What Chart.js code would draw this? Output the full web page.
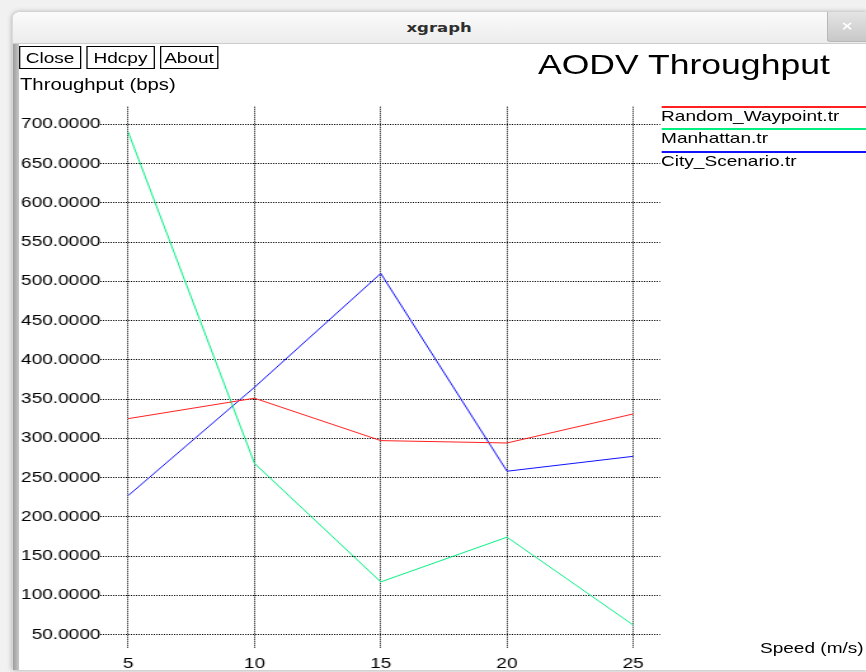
<!DOCTYPE html>
<html>
<head>
<meta charset="utf-8">
<title>xgraph</title>
<script src="https://cdn.jsdelivr.net/npm/chart.js@4.4.1/dist/chart.umd.min.js"></script>
<style>
  html, body { margin: 0; padding: 0; }
  body { width: 866px; height: 672px; overflow: hidden; background: #f1f1f1; font-family: "Liberation Sans", Arial, sans-serif; }
  /* a captura original está esticada na horizontal: desenha com 682px e estica */
  #tela { position: absolute; left: 0; top: 0; width: 682px; height: 672px; transform: scaleX(1.27); transform-origin: 0 0; }
  #janela { position: absolute; left: 9.5px; top: 12px; right: 0; bottom: 2px; background: #fff; border-top-left-radius: 6px; box-shadow: 0 0 5px rgba(0,0,0,0.3); overflow: hidden; }
  #barra-titulo { position: absolute; left: 0; top: 0; right: 0; height: 31px; background: linear-gradient(#fbfbfb, #ececec); border-bottom: 1px solid #cdcdcd; text-align: center; font: bold 13px "DejaVu Sans", sans-serif; line-height: 31px; color: #2e2e2e; }
  #fechar { position: absolute; right: 0; top: 0; width: 30px; height: 29px; background: linear-gradient(#e4e4e4, #c8c8c8); border-left: 1px solid #b8b8b8; border-bottom: 1px solid #b8b8b8; border-bottom-left-radius: 3px; color: #fff; font: bold 12px "DejaVu Sans", sans-serif; line-height: 29px; text-align: center; }
  #borda-esq { position: absolute; left: 0; top: 32px; bottom: 0; width: 5px; background: linear-gradient(to right, #999, #c8c8c8); }
  .botao { position: absolute; top: 46px; height: 23px; box-sizing: border-box; border: 1px solid #000; font-size: 15px; line-height: 21px; text-align: center; color: #000; }
  .texto { position: absolute; color: #000; white-space: nowrap; line-height: 1; }
  #grafico { position: absolute; left: 0; top: 0; }
  #legenda { position: absolute; left: 520.5px; top: 0; right: 0; }
  .item-legenda { position: absolute; left: 0; right: 0; font-size: 15px; line-height: 15px; color: #000; white-space: nowrap; }
  .linha-legenda { height: 2px; }
</style>
</head>
<body>
<div id="tela">
  <div id="janela">
    <div id="barra-titulo">xgraph</div>
    <div id="fechar">×</div>
    <div id="borda-esq"></div>
  </div>
  <div class="botao" style="left:15px; width:48.8px;">Close</div>
  <div class="botao" style="left:67.7px; width:54.3px;">Hdcpy</div>
  <div class="botao" style="left:126px; width:45.7px;">About</div>
  <div class="texto" style="left:15.7px; top:77px; font-size:16px;">Throughput (bps)</div>
  <div class="texto" style="left:423.6px; top:51px; font-size:28px;">AODV Throughput</div>
  <div class="texto" style="left:598.4px; top:640px; font-size:15px;">Speed (m/s)</div>
  <canvas id="grafico" width="682" height="672"></canvas>
  <div id="legenda"></div>
</div>
<script>
// dados
const velocidades = [5, 10, 15, 20, 25];
const randomWaypoint = [325, 351, 297, 294, 331];
const manhattan = [690, 268, 117, 174, 62];
const cityScenario = [227, 365, 510, 258, 277];

const nomesSeries = ['Random_Waypoint.tr', 'Manhattan.tr', 'City_Scenario.tr'];
const ticksX = [5, 10, 15, 20, 25];
const ticksY = [50, 100, 150, 200, 250, 300, 350, 400, 450, 500, 550, 600, 650, 700];

const cores = ['#ff2020', '#00f080', '#1010ff'];
const series = [randomWaypoint, manhattan, cityScenario];

const fonteEixo = { family: 'Liberation Sans', size: 15 };
const legenda = document.querySelector('#legenda');

nomesSeries.forEach((nome, i) => {
    const item = document.createElement('div');
    item.className = 'item-legenda';
    item.style.top = Math.round(106 + i * 22.3) + 'px';

    const linha = document.createElement('div');
    linha.className = 'linha-legenda';
    linha.style.background = cores[i];

    const texto = document.createElement('div');
    texto.textContent = nome;

    item.appendChild(linha);
    item.appendChild(texto);
    legenda.appendChild(item);
});

const grafico = new Chart(document.getElementById('grafico').getContext('2d'), {
    type: 'line',
    data: {
        datasets: series.map((valores, i) => ({
            label: nomesSeries[i],
            data: velocidades.map((v, j) => ({ x: v, y: valores[j] })),
            borderColor: cores[i],
            borderWidth: 1,
            pointRadius: 0,
            tension: 0,
            fill: false
        }))
    },
    options: {
        responsive: false,
        animation: false,
        devicePixelRatio: 1,
        layout: { padding: { top: 106.7, right: 162.3, bottom: 0, left: 0 } },
        plugins: {
            legend: { display: false },
            tooltip: { enabled: false }
        },
        scales: {
            x: {
                type: 'linear',
                min: 3.9,
                max: 26.06,
                afterBuildTicks: (eixo) => { eixo.ticks = ticksX.map(v => ({ value: v })); },
                afterFit: (eixo) => { eixo.height = 24; },
                grid: { color: '#000', drawTicks: false },
                border: { display: false, dash: [1, 1] },
                ticks: { padding: 7, color: '#000', font: fonteEixo, autoSkip: false, maxRotation: 0 }
            },
            y: {
                type: 'linear',
                min: 32.8,
                max: 722.4,
                afterBuildTicks: (eixo) => { eixo.ticks = ticksY.map(v => ({ value: v })); },
                afterFit: (eixo) => { eixo.width = 79.1; },
                grid: { color: '#000', drawTicks: false },
                border: { display: false, dash: [1, 1] },
                ticks: { padding: 0, color: '#000', font: fonteEixo, callback: (v) => v.toFixed(4) }
            }
        }
    }
});
</script>
</body>
</html>
